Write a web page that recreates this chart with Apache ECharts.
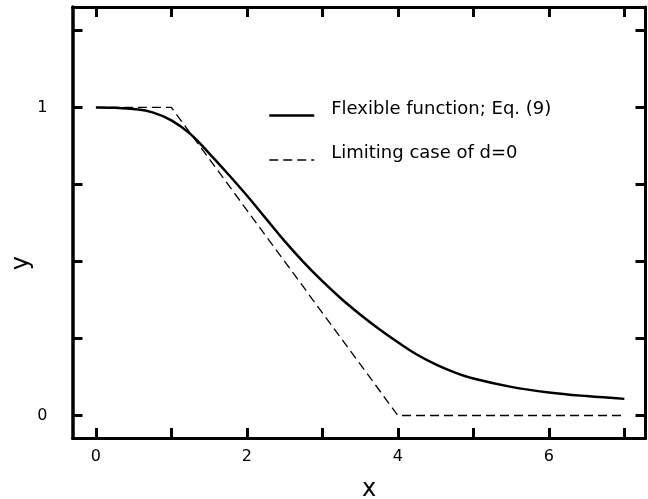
<!DOCTYPE html>
<html>
<head>
<meta charset="utf-8">
<script src="https://cdn.jsdelivr.net/npm/echarts@6/dist/echarts.min.js"></script>
<style>html,body{margin:0;padding:0;background:#fff}#c{width:648px;height:499px}</style>
</head>
<body>
<div id="c"></div>
<script>
var xTicks = [0, 1, 2, 3, 4, 5, 6, 7];
var xLabels = [0, 2, 4, 6];
var yTicks = [0, 0.25, 0.5, 0.75, 1, 1.25];
var yLabels = [0, 1];

var flexX = [0, 0.25, 0.5, 0.75, 1.0, 1.25, 1.5, 1.75, 2.0, 2.25, 2.5, 2.75, 3.0, 3.25, 3.5, 3.75, 4.0, 4.25, 4.5, 4.75, 5.0, 5.5, 6.0, 6.5, 7.0];
var flexY = [1.0, 0.999, 0.995, 0.984, 0.958, 0.914, 0.851, 0.784, 0.714, 0.640, 0.566, 0.498, 0.436, 0.379, 0.328, 0.281, 0.238, 0.198, 0.166, 0.140, 0.120, 0.093, 0.075, 0.063, 0.054];

var limX = [0, 1, 4, 7];
var limY = [1, 1, 0, 0];

var names = ['Flexible function; Eq. (9)', 'Limiting case of d=0'];

function pairs(xs, ys) { return xs.map(function (x, i) { return [x, ys[i]]; }); }

var font = 'DejaVu Sans, Verdana, sans-serif';
var axisLineStyle = { color: '#000', width: 3 };
var tickStyle = { inside: true, length: 10, lineStyle: { color: '#000', width: 3 } };

function xAxis(pos, showLabel) {
  return {
    type: 'value', position: pos, min: -0.31, max: 7.28,
    axisLine: { show: true, onZero: false, lineStyle: axisLineStyle },
    axisTick: Object.assign({ show: true, customValues: xTicks }, tickStyle),
    axisLabel: { show: showLabel, customValues: xLabels, color: '#000', fontSize: 16, fontFamily: font, margin: 11 },
    splitLine: { show: false }
  };
}
function yAxis(pos, showLabel) {
  return {
    type: 'value', position: pos, min: -0.073, max: 1.326,
    axisLine: { show: true, onZero: false, lineStyle: { color: '#000', width: pos === 'left' ? 3.5 : 3 } },
    axisTick: Object.assign({ show: true, customValues: yTicks }, tickStyle),
    axisLabel: { show: showLabel, customValues: yLabels, color: '#000', fontSize: 16, fontFamily: font, margin: 25 },
    splitLine: { show: false }
  };
}

var chart = echarts.init(document.getElementById('c'), null, { renderer: 'canvas' });
chart.setOption({
  animation: false,
  backgroundColor: '#fff',
  grid: { left: 72.5, right: 2.5, top: 7, bottom: 61, containLabel: false },
  xAxis: [xAxis('bottom', true), xAxis('top', false)],
  yAxis: [yAxis('left', true), yAxis('right', false)],
  legend: {
    orient: 'vertical', left: 268, top: 100, padding: 0,
    itemWidth: 45, itemHeight: 14, itemGap: 14,
    itemStyle: { opacity: 0 },
    formatter: function (n) { return '{t|' + n + '}\n{s|}'; },
    textStyle: {
      color: '#000', fontSize: 18, fontFamily: font,
      rich: {
        t: { fontSize: 18, fontFamily: font, color: '#000', lineHeight: 20, padding: [0, 0, 0, 12] },
        s: { lineHeight: 13, fontSize: 10 }
      }
    },
    data: [
      { name: names[0], lineStyle: { width: 2.5 } },
      { name: names[1], lineStyle: { width: 1.3 } }
    ]
  },
  graphic: [
    { type: 'text', left: 362, top: 478, style: { text: 'x', fill: '#000', font: '24px ' + font } },
    { type: 'text', left: 10, top: 256, rotation: Math.PI / 2, style: { text: 'y', fill: '#000', font: '24px ' + font } }
  ],
  series: [
    {
      name: names[0], type: 'line', data: pairs(flexX, flexY), smooth: 0.4,
      symbol: 'none', lineStyle: { color: '#000', width: 2.5 }, itemStyle: { color: '#000' }
    },
    {
      name: names[1], type: 'line', data: pairs(limX, limY),
      symbol: 'none', lineStyle: { color: '#000', width: 1.3, type: [9, 5] }, itemStyle: { color: '#000' }
    }
  ]
});
</script>
</body>
</html>
